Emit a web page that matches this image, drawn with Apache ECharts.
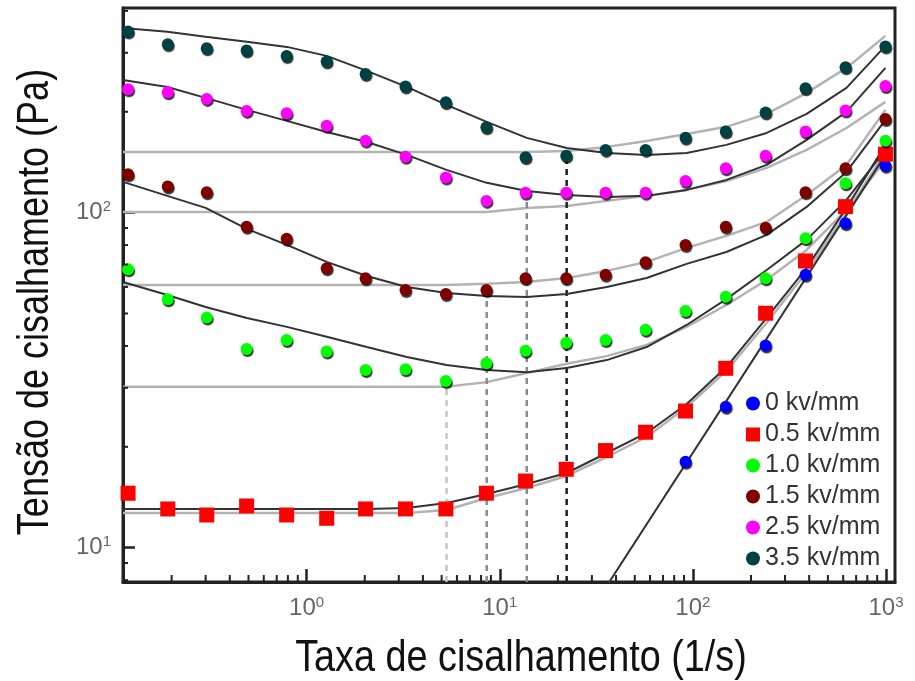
<!DOCTYPE html>
<html>
<head>
<meta charset="utf-8">
<script src="https://cdn.jsdelivr.net/npm/echarts@6/dist/echarts.min.js"></script>
<style>html,body{margin:0;padding:0;background:#fff;}#c{width:915px;height:681px;}</style>
</head>
<body>
<div id="c"></div>
<script>
// ---- axis ranges / ticks ----
const xMin = 0.112, xMax = 1113;
const yMin = 7.9, yMax = 408;
const xTickValues = [1, 10, 100, 1000];
const xTickExps = ['0', '1', '2', '3'];
const yTickValues = [10, 100];
const yTickExps = ['1', '2'];
const xMinorTicks = [0.2,0.3,0.4,0.5,0.6,0.7,0.8,0.9, 2,3,4,5,6,7,8,9, 20,30,40,50,60,70,80,90, 200,300,400,500,600,700,800,900];
const yMinorTicks = [8,9, 20,30,40,50,60,70,80,90, 200,300,400];
const xTitle = 'Taxa de cisalhamento (1/s)';
const yTitle = 'Tensão de cisalhamento (Pa)';

// ---- measured data (shear rate, 1/s) ----
const shearRate = [0.119, 0.191, 0.304, 0.489, 0.788, 1.27, 2.02, 3.25, 5.26, 8.53, 13.6, 22.1, 35.3, 56.9, 91.6, 148, 238, 383, 617, 993];
const s00 = [null,null,null,null,null,null,null,null,null,null,null,null,null,null, 18.06, 26.35, 40.1, 65.2, 92.98, 138.1];
const s05 = [14.54, 13.05, 12.52, 13.32, 12.52, 12.24, 13.05, 13.05, 13.05, 14.54, 15.81, 17.14, 19.49, 22.11, 25.58, 34.3, 50.08, 71.75, 104.2, 149.4];
const s10 = [67.8, 55.1, 48.6, 39.2, 41.7, 38.5, 33.9, 34.1, 31.45, 35.5, 38.7, 40.9, 41.7, 44.7, 50.9, 56.1, 63.7, 83.9, 122.4, 164.0];
const s15 = [130.2, 119.6, 115.1, 90.8, 83.5, 68.2, 63.7, 58.8, 57.2, 58.8, 63.7, 63.7, 65.2, 71.1, 80.1, 90.8, 90.2, 115.1, 135.6, 190.4];
const s25 = [233.5, 228.8, 218.5, 201.2, 198.0, 181.8, 164.0, 146.9, 127.2, 108.4, 114.7, 114.7, 114.7, 114.7, 124.3, 135.6, 147.7, 174.5, 201.6, 238.9];
const s35 = [347.0, 318.2, 309.5, 304.5, 293.6, 282.3, 259.4, 237.8, 213.6, 179.8, 146.4, 147.7, 153.9, 153.9, 167.4, 174.5, 198.9, 235.1, 271.6, 313.0];

// ---- fitted curves ----
const curveX = [0.112, 0.19, 0.3, 0.49, 0.79, 1.27, 2.05, 3.3, 5.3, 8.56, 13.8, 22.2, 35.8, 57.6, 92.8, 149, 241, 388, 624, 993];
const fitA35 = [355.9, 346.3, 334.6, 323.3, 312.3, 293.6, 264.8, 237.2, 209.7, 186.5, 167.1, 156.0, 150.7, 148.7, 150.7, 159.3, 172.9, 197.1, 235.6, 314.5];
const fitB35 = [151.8, 151.8, 151.8, 151.8, 151.8, 151.8, 151.8, 151.8, 151.8, 151.8, 151.8, 152.8, 157.1, 163.7, 171.7, 180.3, 197.1, 227.7, 270.3, 336.9];
const fitA25 = [248.9, 237.2, 220.0, 202.6, 187.8, 174.1, 162.5, 148.7, 134.1, 122.7, 116.1, 112.9, 111.4, 112.2, 116.9, 125.2, 138.8, 164.8, 199.8, 270.3];
const fitB25 = [100.5, 100.5, 100.5, 100.5, 100.5, 100.5, 100.5, 100.5, 100.5, 100.5, 103.3, 104.7, 108.4, 112.2, 116.9, 124.3, 136.0, 153.9, 178.9, 214.0];
const fitA15 = [123.5, 112.2, 103.3, 89.4, 80.1, 71.3, 64.7, 60.0, 57.6, 56.4, 56.0, 57.2, 60.0, 63.8, 70.3, 76.3, 85.8, 104.0, 132.3, 189.1];
const fitB15 = [60.8, 60.8, 60.8, 60.8, 60.8, 60.8, 60.8, 60.8, 60.8, 61.3, 62.1, 63.8, 67.0, 71.3, 78.5, 85.2, 93.8, 112.9, 138.8, 202.6];
const fitA10 = [62.1, 56.8, 52.3, 48.5, 45.6, 42.6, 39.7, 37.1, 35.1, 33.9, 33.4, 34.4, 36.3, 39.7, 46.2, 55.2, 67.4, 82.9, 109.1, 153.9];
const fitB10 = [30.2, 30.2, 30.2, 30.2, 30.2, 30.2, 30.2, 30.2, 30.2, 31.2, 33.2, 35.4, 37.3, 40.3, 45.6, 53.0, 63.0, 77.4, 101.9, 143.7];
const fitA05 = [13.05, 13.05, 13.05, 13.05, 13.05, 13.05, 13.05, 13.14, 13.59, 14.46, 15.49, 16.71, 19.17, 22.0, 26.85, 34.6, 48.5, 68.4, 103.3, 159.3];
const fitB05 = [12.69, 12.69, 12.69, 12.69, 12.69, 12.69, 12.69, 12.69, 12.96, 14.07, 15.07, 16.37, 18.65, 21.4, 26.3, 33.7, 46.9, 66.5, 99.8, 151.8];
const fit00X = [32.9, 240.6, 993];
const fit00Y = [7.13, 42.0, 148.7];

// ---- vertical guide lines at the minima ----
const guideX = [5.3, 8.56, 13.8, 22.2];
const guideTop = [30.2, 56.4, 109.0, 144.0];
const guideColors = ['#c4c4c4', '#8c8c8c', '#8a8a8a', '#1e1e1e'];

const seriesNames = ['0 kv/mm', '0.5 kv/mm', '1.0 kv/mm', '1.5 kv/mm', '2.5 kv/mm', '3.5 kv/mm'];
const seriesColors = ['#0000ff', '#ff0000', '#00ff00', '#800000', '#ff00ff', '#004242'];
const seriesData = [s00, s05, s10, s15, s25, s35];

const pairs = (xs, ys) => xs.map((x, i) => [x, ys[i]]).filter(p => p[1] != null);

const series = [];
const darkFits = [fitA05, fitA10, fitA15, fitA25, fitA35];
const lightFits = [fitB05, fitB10, fitB15, fitB25, fitB35];
lightFits.forEach(f => series.push({
  type: 'line', data: pairs(curveX, f), showSymbol: false, symbol: 'none', silent: true, z: 2,
  lineStyle: { color: '#b3b3b3', width: 2.5 }
}));
darkFits.forEach(f => series.push({
  type: 'line', data: pairs(curveX, f), showSymbol: false, symbol: 'none', silent: true, z: 3,
  lineStyle: { color: '#333333', width: 2 }
}));
series.push({
  type: 'line', data: pairs(fit00X, fit00Y), showSymbol: false, symbol: 'none', silent: true, z: 3,
  lineStyle: { color: '#333333', width: 2 }
});
guideX.forEach((gx, i) => series.push({
  type: 'line', data: [[gx, yMin], [gx, guideTop[i]]], showSymbol: false, symbol: 'none', silent: true, z: 2,
  lineStyle: { color: guideColors[i], width: 2.5, type: [6, 5] }
}));
seriesNames.forEach((name, i) => series.push({
  name: name, type: 'scatter', data: pairs(shearRate, seriesData[i]), z: 10,
  symbol: i === 1 ? 'rect' : 'circle', symbolSize: i === 1 ? 15 : 12,
  itemStyle: i === 1 ? { color: seriesColors[i], opacity: 1 } :
    { color: seriesColors[i], opacity: 1, shadowColor: 'rgba(0,0,0,0.8)', shadowBlur: 1, shadowOffsetX: 1, shadowOffsetY: 2 }
}));
// minor ticks (2..9 per decade) drawn through the axis scales
series.push({
  type: 'custom', coordinateSystem: 'cartesian2d', silent: true, z: 20, clip: false,
  data: xMinorTicks.map(v => [v, yMin]),
  renderItem: (params, api) => {
    const p = api.coord([api.value(0), api.value(1)]);
    return { type: 'line', shape: { x1: p[0], y1: p[1], x2: p[0], y2: p[1] - 7 }, style: { stroke: '#222', lineWidth: 2 } };
  }
});
series.push({
  type: 'custom', coordinateSystem: 'cartesian2d', silent: true, z: 20, clip: false,
  data: yMinorTicks.map(v => [xMin, v]),
  renderItem: (params, api) => {
    const p = api.coord([api.value(0), api.value(1)]);
    return { type: 'line', shape: { x1: p[0], y1: p[1], x2: p[0] + 5, y2: p[1] }, style: { stroke: '#222', lineWidth: 2 } };
  }
});

const labelFmt = (vals, exps) => v => {
  const i = vals.findIndex(t => Math.abs(t - v) / t < 1e-6);
  return i < 0 ? '' : '{b|10}{s|' + exps[i] + '}';
};
const richLbl = {
  b: { fontFamily: 'Liberation Sans', fontSize: 24, color: '#666' },
  s: { fontFamily: 'Liberation Sans', fontSize: 15, color: '#666', verticalAlign: 'top', padding: [0, 0, 11, 0] }
};

const chart = echarts.init(document.getElementById('c'), null, { renderer: 'canvas' });
chart.setOption({
  animation: false,
  backgroundColor: '#fff',
  grid: { left: 123, right: 20, top: 8, bottom: 99, show: true, borderColor: '#222', borderWidth: 3, containLabel: false, outerBoundsMode: 'none' },
  legend: {
    orient: 'vertical', left: 741, top: 386, itemWidth: 14, itemHeight: 14, itemGap: 6,
    data: seriesNames,
    textStyle: { fontFamily: 'Liberation Sans', fontSize: 25, color: '#333' }
  },
  graphic: [
    { type: 'text', x: 521, y: 659, scaleX: 0.84, z: 50,
      style: { text: xTitle, fontFamily: 'Liberation Sans', fontSize: 45, fill: '#111', align: 'center', verticalAlign: 'middle' } },
    { type: 'text', x: 36, y: 302, rotation: Math.PI / 2, scaleX: 0.8, z: 50,
      style: { text: yTitle, fontFamily: 'Liberation Sans', fontSize: 45, fill: '#111', align: 'center', verticalAlign: 'middle' } }
  ],
  xAxis: {
    type: 'log', logBase: 10, min: xMin, max: xMax,
    axisLine: { show: true, lineStyle: { color: '#222', width: 3 } },
    axisTick: { show: true, inside: true, length: 13, lineStyle: { color: '#222', width: 2.5 } },
    minorTick: { show: false },
    splitLine: { show: false },
    axisLabel: { margin: 13, showMinLabel: false, showMaxLabel: false, formatter: labelFmt(xTickValues, xTickExps), rich: richLbl }
  },
  yAxis: {
    type: 'log', logBase: 10, min: yMin, max: yMax,
    axisLine: { show: true, lineStyle: { color: '#222', width: 3 } },
    axisTick: { show: true, inside: true, length: 12, lineStyle: { color: '#222', width: 2.5 } },
    minorTick: { show: false },
    splitLine: { show: false },
    axisLabel: { margin: 12, showMinLabel: false, showMaxLabel: false, formatter: labelFmt(yTickValues, yTickExps), rich: richLbl }
  },
  series: series
});
</script>
</body>
</html>
